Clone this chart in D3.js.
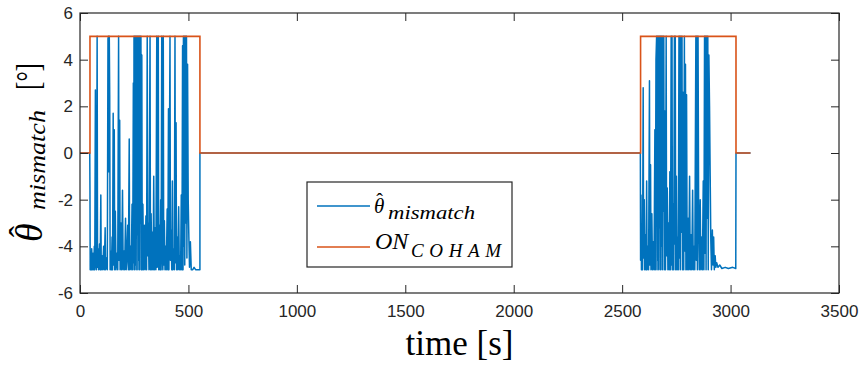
<!DOCTYPE html>
<html>
<head>
<meta charset="utf-8">
<script src="https://cdn.jsdelivr.net/npm/d3@7"></script>
<style>
  body { margin: 0; background: #fff; }
  svg { display: block; }
</style>
</head>
<body>
<svg id="chart"></svg>
<script>
// axis ticks
const timeTicks = [0, 500, 1000, 1500, 2000, 2500, 3000, 3500];
const angleTicks = [-6, -4, -2, 0, 2, 4, 6];

// ON_COHAM step signal: [time s, value]
const onCoham = [[0, 0], [46, 0], [46, 5], [553, 5], [553, 0], [2585, 0], [2585, 5], [3025, 5], [3025, 0], [3092, 0]];

// theta_mismatch, first active window
const burstOne = [[0,0],[45,0],[46,-1.6],[47,-5],[52,-5],[54,-4.1],[57,-5],[60,-4.3],[63,-5],[66,-4.0],[68,-5],[71,2.7],[72,-4.6],[76,-5],[79,5],[81,-4.9],[84,-4.1],[86,-5],[90,-3.9],[93,-5],[96,-1.8],[98,-5],[102,-4.4],[105,-5],[109,-4.0],[112,-5],[116,-3.2],[118,-5],[122,-4.5],[126,-5],[129,4.9],[131,5],[133,-0.8],[135,5],[137,2.5],[139,-5],[142,-4.2],[145,-5],[148,-3.6],[150,-5],[153,1.7],[155,-4.8],[158,1.0],[160,-5],[163,-2.5],[166,-5],[170,-4.3],[174,-5],[178,5],[180,-4.6],[183,1.4],[185,-5],[189,-3.0],[192,-5],[196,-1.6],[199,-5],[203,-4.2],[206,-5],[210,-2.8],[213,-5],[216,-4.6],[220,-3.1],[223,-5],[227,0.6],[229,-5],[233,-4.0],[236,-5],[240,-2.2],[243,-5],[246,3.0],[248,-4.7],[249,5],[251,-5],[253,5],[255,-4.8],[257,5],[259,-5],[261,5],[263,-3.5],[265,5],[267,-5],[269,5],[271,-4.6],[273,5],[275,-5],[277,5],[279,-3.0],[281,5],[283,-5],[285,4.2],[287,-5],[290,-2.2],[293,-5],[297,-3.1],[300,-5],[304,-2.7],[307,-5],[310,5],[312,-4.4],[315,-3.0],[318,-5],[323,5],[325,-5],[328,-2.6],[331,-5],[334,-3.4],[337,-5],[340,-1.0],[343,-5],[347,-3.2],[350,-5],[354,5],[356,-4.9],[358,-0.4],[361,5],[363,-5],[366,-3.1],[369,-5],[372,-2.0],[374,-5],[377,5],[379,-4.2],[382,-5],[384,5],[386,-4.8],[389,-2.9],[392,-5],[395,-4.0],[398,-5],[402,-2.4],[405,-5],[408,1.9],[410,-5],[415,5],[417,-4.6],[420,-3.3],[423,-5],[426,-1.2],[428,-5],[432,-4.1],[435,-5],[438,5],[440,-4.7],[443,1.3],[445,-5],[448,-3.6],[451,-5],[455,-2.3],[458,-5],[461,-4.4],[464,-5],[467,-1.8],[470,-5],[473,4.6],[475,-5],[477,5],[479,-4.0],[481,5],[483,-4.8],[486,5],[488,-3.0],[491,5],[493,-4.5],[496,3.8],[499,-2.0],[502,-3.6],[505,-4.9],[509,-3.8],[513,-5],[520,-5],[526,-4.9],[533,-5],[540,-5],[547,-5],[553,-5],[553,0]];

// theta_mismatch, second active window
const burstTwo = [[2584,0],[2585,-4.6],[2587,-1.8],[2589,-5],[2591,-3.8],[2594,-5],[2597,2.8],[2599,-4.5],[2602,-2.0],[2604,-5],[2607,-3.5],[2610,-5],[2613,-1.2],[2615,-5],[2619,-4.0],[2622,-5],[2626,3.1],[2628,-4.8],[2631,-0.5],[2633,-5],[2637,-2.6],[2640,-5],[2644,-3.8],[2647,-5],[2651,1.0],[2653,-5],[2656,4.0],[2659,5],[2661,-5],[2663,5],[2665,-4.6],[2667,5],[2669,-5],[2671,5],[2673,-3.2],[2675,5],[2677,-5],[2679,5],[2681,-4.0],[2683,5],[2685,-5],[2688,5],[2690,-2.5],[2692,5],[2694,-5],[2697,1.8],[2700,-5],[2703,5],[2705,-4.4],[2708,-1.5],[2711,-5],[2714,-3.0],[2717,-5],[2720,-0.8],[2723,-5],[2726,5],[2728,-4.8],[2730,5],[2732,-5],[2735,-2.2],[2738,-5],[2741,5],[2743,-3.9],[2745,5],[2747,-5],[2750,-1.0],[2753,-5],[2756,-3.6],[2759,-5],[2762,5],[2764,-4.5],[2766,5],[2768,-5],[2771,5],[2773,-3.4],[2776,5],[2778,-5],[2781,2.6],[2784,-5],[2787,5],[2789,-4.2],[2792,3.8],[2794,-5],[2797,2.5],[2800,-5],[2804,-2.8],[2807,-5],[2811,-1.0],[2814,-5],[2818,-3.5],[2821,-5],[2825,-1.6],[2828,-5],[2832,-4.0],[2835,-5],[2840,5],[2842,-4.6],[2845,5],[2847,-5],[2850,5],[2853,-3.0],[2856,-5],[2860,-2.0],[2863,-5],[2867,-3.6],[2870,-5],[2874,-1.2],[2877,-5],[2880,5],[2882,-4.3],[2885,5],[2887,-5],[2890,5],[2892,-2.8],[2895,5],[2897,-5],[2900,4.2],[2903,2.0],[2906,-1.0],[2909,-3.8],[2912,-5],[2916,-3.3],[2919,-4.8],[2922,-3.6],[2925,-5],[2929,-4.4],[2932,-4.9],[2936,-4.7],[2942,-4.9],[2950,-4.8],[2960,-4.95],[2975,-4.9],[2990,-4.95],[3010,-4.9],[3024,-4.95],[3025,0],[3092,0]];

const mismatch = burstOne.concat(burstTwo);

const width = 866, height = 376;
const margin = {top: 13, right: 27, bottom: 83, left: 80};
const axisColor = '#262626';
const blue = '#0072BD', orange = '#D95319';
const mathFont = '"Liberation Serif", "Times New Roman", serif';

const x = d3.scaleLinear()
    .domain([0, 3500])
    .range([margin.left, width - margin.right]);

const y = d3.scaleLinear()
    .domain([-6, 6])
    .range([height - margin.bottom, margin.top]);

const svg = d3.select('#chart')
    .attr('width', width)
    .attr('height', height);

const line = d3.line()
    .x(d => x(d[0]))
    .y(d => y(d[1]));

svg.append('path')
    .datum(mismatch)
    .attr('fill', 'none')
    .attr('stroke', blue)
    .attr('stroke-width', 1.5)
    .attr('stroke-linejoin', 'round')
    .attr('d', line);

svg.append('path')
    .datum(onCoham)
    .attr('fill', 'none')
    .attr('stroke', orange)
    .attr('stroke-width', 1.6)
    .attr('d', line);

// axes, ticks pointing inwards like matlab
const styleAxis = g => g
    .attr('color', axisColor)
    .attr('font-family', '"Liberation Sans", Arial, sans-serif')
    .attr('font-size', 17)
    .call(g => g.select('.domain').remove());

svg.append('g')
    .attr('transform', `translate(0,${y(-6)})`)
    .call(d3.axisBottom(x).tickValues(timeTicks).tickSizeInner(-8).tickSizeOuter(0).tickPadding(12).tickFormat(d => String(d)))
    .call(styleAxis);

svg.append('g')
    .attr('transform', `translate(0,${y(6)})`)
    .call(d3.axisTop(x).tickValues(timeTicks).tickSizeInner(-8).tickSizeOuter(0).tickFormat(''))
    .call(styleAxis);

svg.append('g')
    .attr('transform', `translate(${x(0)},0)`)
    .call(d3.axisLeft(y).tickValues(angleTicks).tickSizeInner(-8).tickSizeOuter(0).tickPadding(7).tickFormat(d => String(d)))
    .call(styleAxis);

svg.append('g')
    .attr('transform', `translate(${x(3500)},0)`)
    .call(d3.axisRight(y).tickValues(angleTicks).tickSizeInner(-8).tickSizeOuter(0).tickFormat(''))
    .call(styleAxis);

svg.append('rect')
    .attr('x', x(0))
    .attr('y', y(6))
    .attr('width', x(3500) - x(0))
    .attr('height', y(-6) - y(6))
    .attr('fill', 'none')
    .attr('stroke', axisColor)
    .attr('stroke-width', 1.2);

// x label
svg.append('text')
    .attr('x', (x(0) + x(3500)) / 2)
    .attr('y', 355)
    .attr('text-anchor', 'middle')
    .attr('font-family', mathFont)
    .attr('font-size', 35)
    .text('time [s]');

// theta with a hat pulled back over it, in one text element
const hatTheta = (sel, size, back, lift) => {
    sel.append('tspan').text('θ');
    sel.append('tspan')
        .attr('dx', -back).attr('dy', -lift)
        .attr('font-style', 'normal')
        .attr('font-size', size)
        .text('ˆ');
};

// y label, rotated
const yl = svg.append('g')
    .attr('transform', 'translate(43,253) rotate(-90)')
    .attr('font-family', mathFont)
    .attr('fill', '#000');

yl.append('text')
    .attr('x', 11).attr('y', -1)
    .attr('font-style', 'italic')
    .attr('font-size', 38)
    .call(hatTheta, 34, 14, 9);
yl.append('text')
    .attr('x', 43).attr('y', 2)
    .attr('font-style', 'italic')
    .attr('font-size', 24)
    .attr('textLength', 100)
    .attr('lengthAdjust', 'spacingAndGlyphs')
    .text('mismatch');
yl.append('text')
    .attr('x', 163).attr('y', -4)
    .attr('font-size', 33)
    .attr('textLength', 27)
    .attr('lengthAdjust', 'spacingAndGlyphs')
    .text('[°]');

// legend
const legend = svg.append('g');
legend.append('rect')
    .attr('x', 307).attr('y', 182)
    .attr('width', 205).attr('height', 85)
    .attr('fill', '#fff')
    .attr('stroke', axisColor)
    .attr('stroke-width', 1.2);

const entries = [
    {color: blue, ly: 206},
    {color: orange, ly: 247}
];
legend.selectAll('line.key')
    .data(entries)
    .join('line')
    .attr('class', 'key')
    .attr('x1', 317).attr('x2', 370)
    .attr('y1', d => d.ly).attr('y2', d => d.ly)
    .attr('stroke', d => d.color)
    .attr('stroke-width', 1.6);

const lt = legend.append('g').attr('font-family', mathFont).attr('font-style', 'italic');
lt.append('text').attr('x', 374).attr('y', 213).attr('font-size', 21)
    .call(hatTheta, 20, 8, 5);
lt.append('text').attr('x', 388).attr('y', 219).attr('font-size', 18)
    .attr('textLength', 87).attr('lengthAdjust', 'spacingAndGlyphs').text('mismatch');
lt.append('text').attr('x', 375).attr('y', 249).attr('font-size', 24).text('ON');
lt.append('text').attr('x', 411).attr('y', 257).attr('font-size', 19)
    .attr('textLength', 90).attr('lengthAdjust', 'spacing').text('COHAM');
</script>
</body>
</html>
